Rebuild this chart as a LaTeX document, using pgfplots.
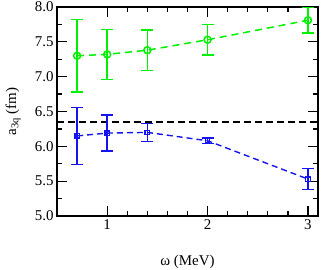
\documentclass[border=0pt]{standalone}
\usepackage{fontspec}
\setmainfont{Liberation Serif}
\usepackage{pgfplots}
\pgfplotsset{compat=1.18}
\definecolor{mygreen}{RGB}{0,240,0}
\definecolor{myblue}{RGB}{20,20,240}
\begin{document}
\begin{tikzpicture}
\path[use as bounding box] (-57bp,-54bp) rectangle (267bp,216bp);
\begin{axis}[
  scale only axis, width=261bp, height=209bp,
  xmin=0.5, xmax=3.1, ymin=5.0, ymax=8.0,
  xtick={1,2,3}, minor x tick num=4,
  ytick={5.0,5.5,6.0,6.5,7.0,7.5,8.0}, minor y tick num=1,
  yticklabel style={/pgf/number format/fixed,/pgf/number format/fixed zerofill,/pgf/number format/precision=1},
  /pgf/number format/assume math mode=true,
  tick label style={font=\fontsize{15}{17}\selectfont},
  label style={font=\fontsize{15}{17}\selectfont},
  tick align=inside, ticks=both,
  major tick length=10bp, minor tick length=5bp,
  every tick/.style={black, line width=1.3pt},
  axis line style={line width=1.5pt},
  xlabel={ω (MeV)}, ylabel={a$_{\mathrm{3q}}$ (fm)},
  xlabel style={at={(axis description cs:0.5,0)}, anchor=north, yshift=-36bp},
  ylabel style={at={(axis description cs:0,0.5)}, anchor=south, yshift=33bp},
  clip=false,
]
\addplot[black, dashed, line width=1.4pt, dash pattern=on 7bp off 4bp, forget plot] coordinates {(0.5,6.35) (3.1,6.35)};
\addplot[mygreen, line width=1.5pt, dash pattern=on 7bp off 5bp, mark=o, mark size=3.5bp,
  mark options={solid, line width=1.5pt},
  error bars/.cd, y dir=both, y explicit,
  error bar style={solid, line width=1.5pt}, error mark options={rotate=90, mark size=6bp, line width=1.5pt}]
coordinates {
 (0.7,7.30) +- (0,0.52)
 (1.0,7.32) +- (0,0.36)
 (1.4,7.38) +- (0,0.29)
 (2.0,7.53) +- (0,0.22)
 (3.0,7.81) +- (0,0.18)
};
\addplot[myblue, line width=1.4pt, dash pattern=on 6bp off 4bp, mark=square, mark size=2.2bp,
  mark options={solid, line width=1.3pt},
  error bars/.cd, y dir=both, y explicit,
  error bar style={solid, line width=1.5pt}, error mark options={rotate=90, mark size=6bp, line width=1.5pt}]
coordinates {
 (0.7,6.15) +- (0,0.41)
 (1.0,6.19) +- (0,0.26)
 (1.4,6.20) +- (0,0.13)
 (2.0,6.08) +- (0,0.04)
 (3.0,5.53) +- (0,0.15)
};
\end{axis}
\end{tikzpicture}
\end{document}
